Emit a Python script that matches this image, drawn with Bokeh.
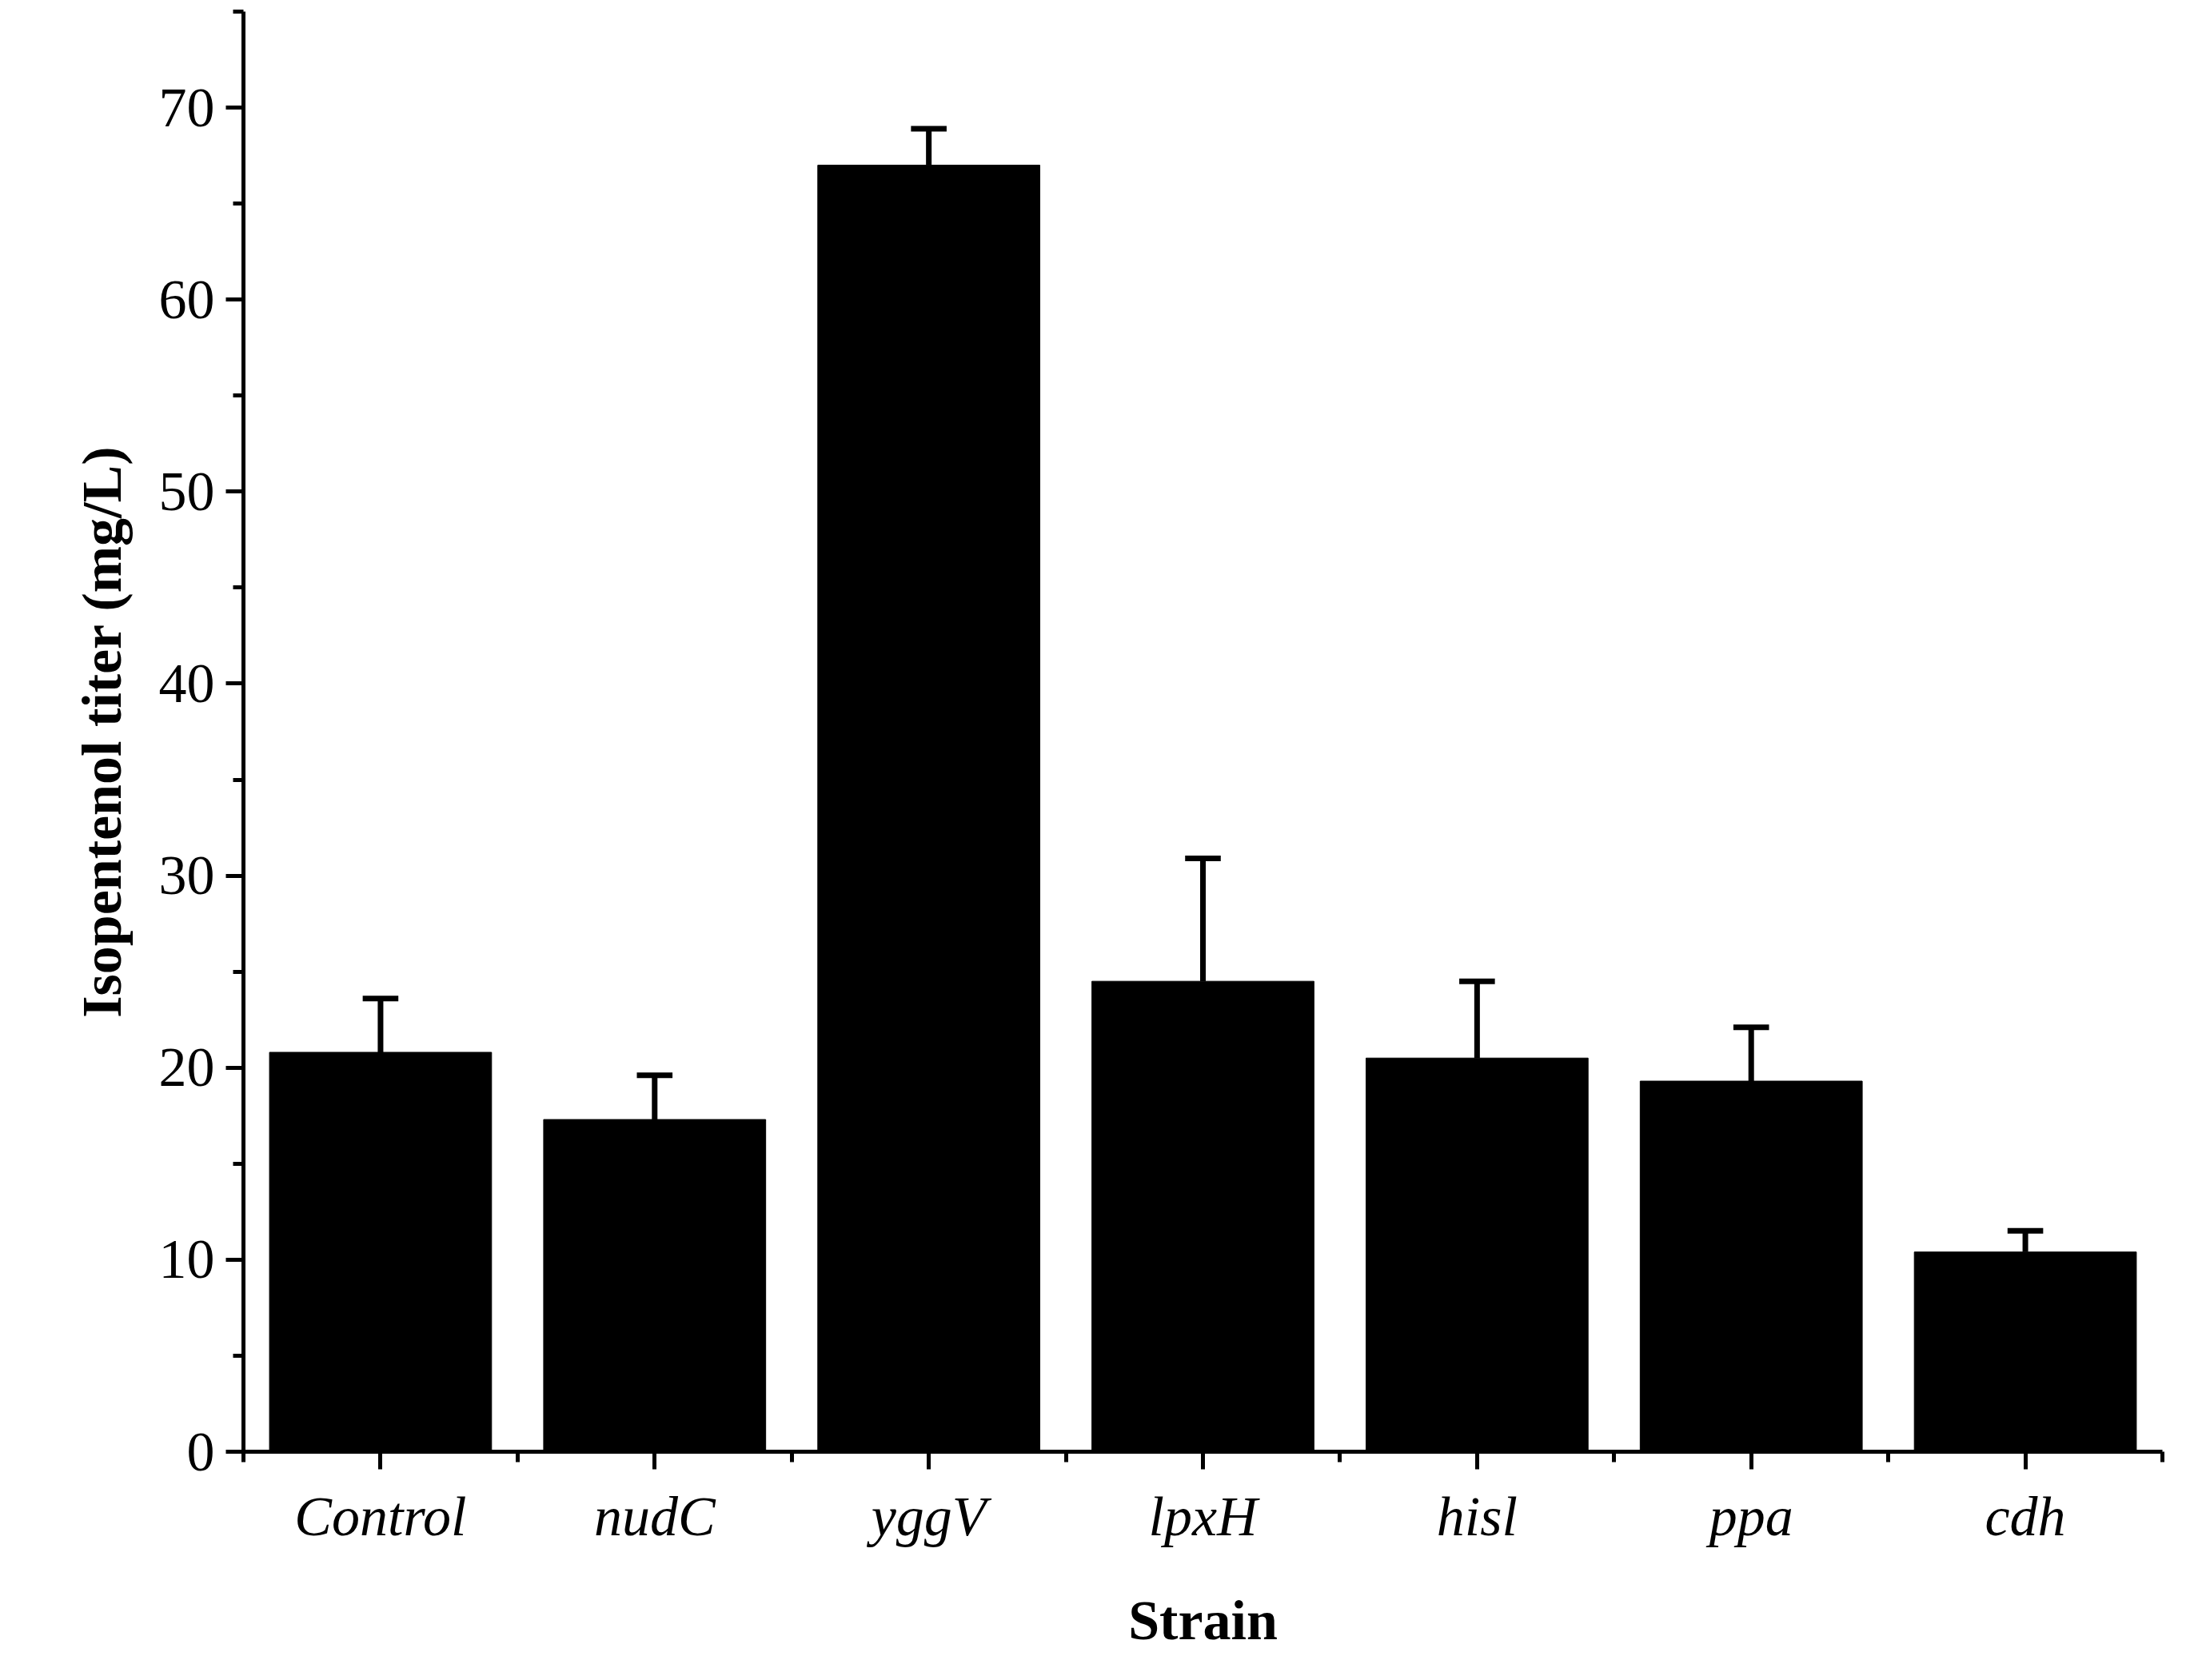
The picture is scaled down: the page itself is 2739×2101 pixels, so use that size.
from bokeh.plotting import figure
from bokeh.models import FixedTicker, Range1d
from bokeh.embed import file_html
from bokeh.resources import INLINE

strains = ["Control", "nudC", "yggV", "lpxH", "hisl", "ppa", "cdh"]
titer = [20.8, 17.3, 67.0, 24.5, 20.5, 19.3, 10.4]
err_top = [23.6, 19.6, 68.9, 30.9, 24.5, 22.1, 11.5]

xs = list(range(len(strains)))
p = figure(width=2720, height=2080, output_backend="svg", toolbar_location=None,
           x_range=Range1d(-0.5, 6.5), y_range=Range1d(0, 75),
           min_border_left=304, min_border_right=16, min_border_top=14, min_border_bottom=265)
p.outline_line_color = None
p.grid.visible = False
p.background_fill_color = "white"

p.vbar(x=xs, top=titer, width=0.81, fill_color="black", line_color="black")
p.segment(x0=xs, y0=titer, x1=xs, y1=err_top, line_color="black", line_width=7)
p.segment(x0=[x - 0.065 for x in xs], y0=err_top, x1=[x + 0.065 for x in xs], y1=err_top,
          line_color="black", line_width=7)

p.xaxis.ticker = FixedTicker(ticks=xs, minor_ticks=[x + 0.5 for x in range(-1, 7)])
p.xaxis.major_label_overrides = {i: s for i, s in enumerate(strains)}
p.yaxis.ticker = FixedTicker(ticks=list(range(0, 71, 10)), minor_ticks=list(range(0, 76, 5)))

for ax in (p.xaxis, p.yaxis):
    ax.axis_line_width = 5
    ax.major_tick_line_width = 5
    ax.minor_tick_line_width = 5
    ax.major_tick_out = 22
    ax.major_tick_in = 0
    ax.minor_tick_out = 13
    ax.minor_tick_in = 0
    ax.major_label_text_font = "Liberation Serif"
    ax.major_label_text_font_size = "70px"
    ax.major_label_text_color = "black"
    ax.axis_label_text_font = "Liberation Serif"
    ax.axis_label_text_font_size = "70px"
    ax.axis_label_text_font_style = "bold"
    ax.axis_label_text_color = "black"

p.xaxis.major_label_text_font_style = "italic"
p.xaxis.major_label_standoff = 20
p.yaxis.major_label_standoff = 14
p.xaxis.axis_label = "Strain"
p.yaxis.axis_label = "Isopentenol titer (mg/L)"
p.xaxis.axis_label_standoff = 50
p.yaxis.axis_label_standoff = 30

open("out.html", "w").write(file_html(p, INLINE))
